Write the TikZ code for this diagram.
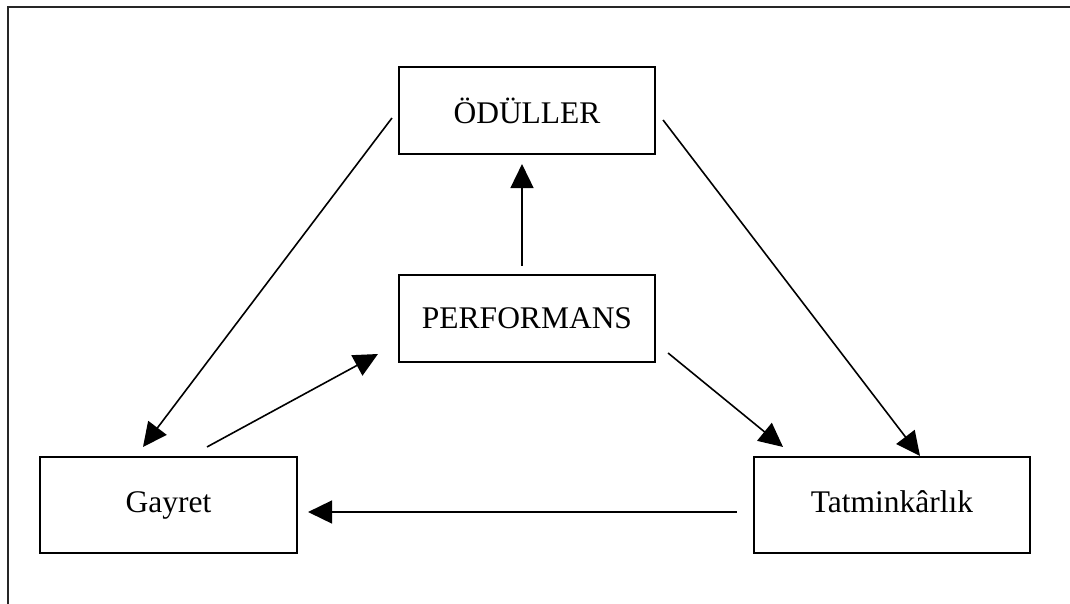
\documentclass[tikz,border=0pt]{standalone}
\usepackage{fontspec}
\setmainfont{Liberation Serif}
\usetikzlibrary{arrows.meta}
\begin{document}
\begin{tikzpicture}[x=1pt,y=1pt,
  box/.style={draw,line width=2.1pt,rectangle,inner sep=0pt,
    font=\fontsize{31.5}{36}\selectfont},
  lowbox/.style={box,text height=21pt,text depth=7pt},
  link/.style={line width=1.6pt,-{Triangle[length=24pt,width=23pt]}}]
\useasboundingbox (0,0) rectangle (1070,-603);
% frame edges (top and left only)
\draw[line width=2.1pt,black!85] (1071,-7) -- (8,-7) -- (8,-604);

% boxes
\node[box,minimum width=256pt,minimum height=87pt] (od) at (527,-110.5) {ÖDÜLLER};
\node[box,minimum width=256pt,minimum height=87pt] (pf) at (527,-318.5) {PERFORMANS};
\node[lowbox,minimum width=257pt,minimum height=96pt] (gy) at (168.5,-505) {Gayret};
\node[lowbox,minimum width=276pt,minimum height=96pt] (tk) at (892,-505) {Tatminkârlık};

% connectors
\draw[link] ([shift={(-6pt,-7.5pt)}]od.west) -- ([shift={(-25.5pt,9pt)}]gy.north);
\draw[link] ([shift={(7pt,-9.5pt)}]od.east) -- ([shift={(28pt,0pt)}]tk.north);
\draw[link] ([shift={(-5pt,8pt)}]pf.north) -- ([shift={(-5pt,-9pt)}]od.south);
\draw[link] ([shift={(38.5pt,9pt)}]gy.north) -- ([shift={(-20pt,-35.5pt)}]pf.west);
\draw[link] ([shift={(12pt,-34.5pt)}]pf.east) -- ([shift={(-109pt,9pt)}]tk.north);
\draw[link] ([shift={(-16pt,-7pt)}]tk.west) -- ([shift={(10pt,-7pt)}]gy.east);
\end{tikzpicture}
\end{document}
